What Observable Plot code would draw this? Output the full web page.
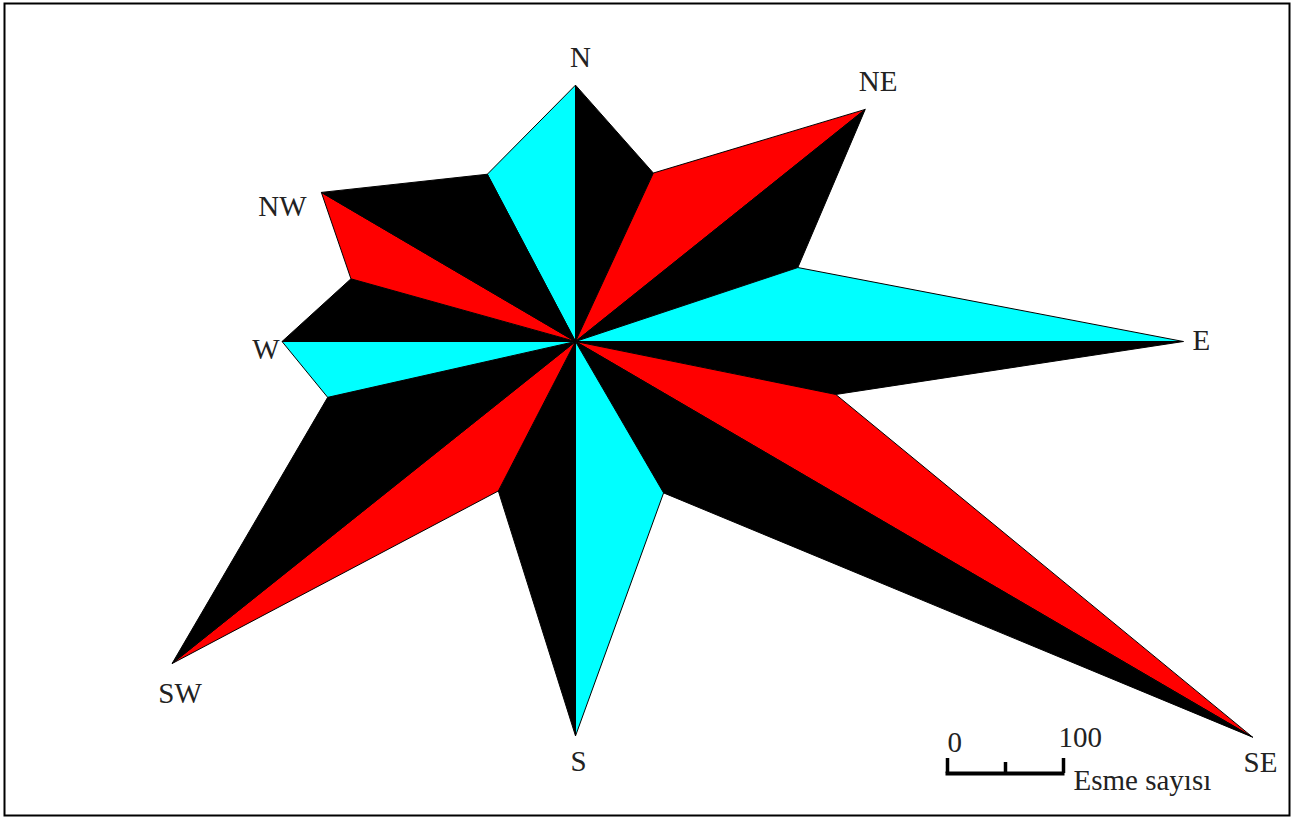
<!DOCTYPE html>
<html>
<head>
<meta charset="utf-8">
<script src="https://cdn.jsdelivr.net/npm/d3@7"></script>
<script src="https://cdn.jsdelivr.net/npm/@observablehq/plot@0.6"></script>
<style>
  html, body { margin: 0; padding: 0; background: #fff; }
  #chart { width: 1296px; height: 818px; }
</style>
</head>
<body>
<div id="chart"></div>
<script>
// ---- Data ----
const directions = ["N","NNE","NE","ENE","E","ESE","SE","SSE","S","SSW","SW","WSW","W","WNW","NW","NNW"];
const counts     = [221, 160, 320, 202, 524, 229, 676, 151, 340, 145, 445, 219, 253, 201, 254, 163];
const bearings   = [0, 24.8, 51.3, 71.6, 90, 101.5, 120.3, 149.8, 180, 207.3, 231.4, 257.3, 270, 285.6, 300.4, 332.2];
const mainLabels = ["N","NE","E","SE","S","SW","W","NW"];
const scaleTicks = [0, 50, 100];
const scaleTickLabels = [{v: 0, t: "0"}, {v: 100, t: "100"}];
const scaleTitle = "Esme sayısı";

// ---- Layout (pixels) ----
const W = 1296, H = 818;
const cx = 575, cy = 341, k = 1.16;          // centre in px, px per unit
const ux = px => (px - cx) / k;
const uy = py => (cy - py) / k;

// vertices
const pts = directions.map((d, i) => {
  const b = bearings[i] * Math.PI / 180;
  return {dir: d, x: counts[i] * Math.sin(b), y: counts[i] * Math.cos(b)};
});

// triangles: for each main direction two halves
const tri = [];
for (let m = 0; m < 8; m++) {
  const i = 2 * m;
  const prev = pts[(i + 15) % 16], cur = pts[i], next = pts[(i + 1) % 16];
  const c1 = (m % 2 === 0) ? "#00ffff" : "#ff0000";
  const halves = [[prev, cur, c1], [cur, next, "#000000"]];
  halves.forEach(([a, b, col], h) => {
    const id = `${cur.dir}-${h}`;
    [{x: 0, y: 0}, a, b, {x: 0, y: 0}].forEach(p => tri.push({id, x: p.x, y: p.y, color: col}));
  });
}

// label offsets (px) relative to the tip
const off = {N: [5, -27], NE: [13, -28], E: [18, -1], SE: [8, 26], S: [3, 26], SW: [8, 30], W: [-16, 8], NW: [-39, 14]};
const labels = mainLabels.map(l => {
  const p = pts[directions.indexOf(l)];
  return {t: l, x: p.x + off[l][0] / k, y: p.y - off[l][1] / k};
});

// scale bar in data units
const sx0 = ux(947), sy0 = uy(773);

const chart = Plot.plot({
  width: W, height: H,
  margin: 0,
  x: {domain: [ux(0), ux(W)], range: [0, W], axis: null},
  y: {domain: [uy(H), uy(0)], range: [H, 0], axis: null},
  color: {type: "identity"},
  style: {background: "#fff", color: "#000", fontFamily: "'Liberation Serif', 'Times New Roman', serif", fontSize: "29px"},
  marks: [
    Plot.line(tri, {x: "x", y: "y", z: "id", fill: "color", stroke: "#000", strokeWidth: 1, strokeLinejoin: "miter"}),
    Plot.text(labels, {x: "x", y: "y", text: "t", fontSize: 29, fill: "#222"}),
    // scale bar
    Plot.ruleY([sy0], {x1: sx0 - 1.5 / k, x2: sx0 + 100 + 1.5 / k, strokeWidth: 4, stroke: "#000"}),
    Plot.ruleX(scaleTicks, {x: d => sx0 + d, y1: sy0, y2: d => sy0 + (d === 50 ? 11 : 15) / k, strokeWidth: 3.5, stroke: "#000"}),
    Plot.text(scaleTickLabels, {x: d => sx0 + d.v - (d.v ? 5 / k : 0), y: d => d.v ? uy(737) : uy(742), text: "t", textAnchor: "start", fontSize: 29, fill: "#222"}),
    Plot.text([scaleTitle], {x: ux(1073), y: uy(780), text: d => d, textAnchor: "start", fontSize: 29, fill: "#222"}),
    Plot.frame({stroke: "#000", strokeWidth: 2, insetLeft: 4, insetTop: 3, insetRight: 7, insetBottom: 3})
  ]
});
document.getElementById("chart").appendChild(chart);
</script>
</body>
</html>
